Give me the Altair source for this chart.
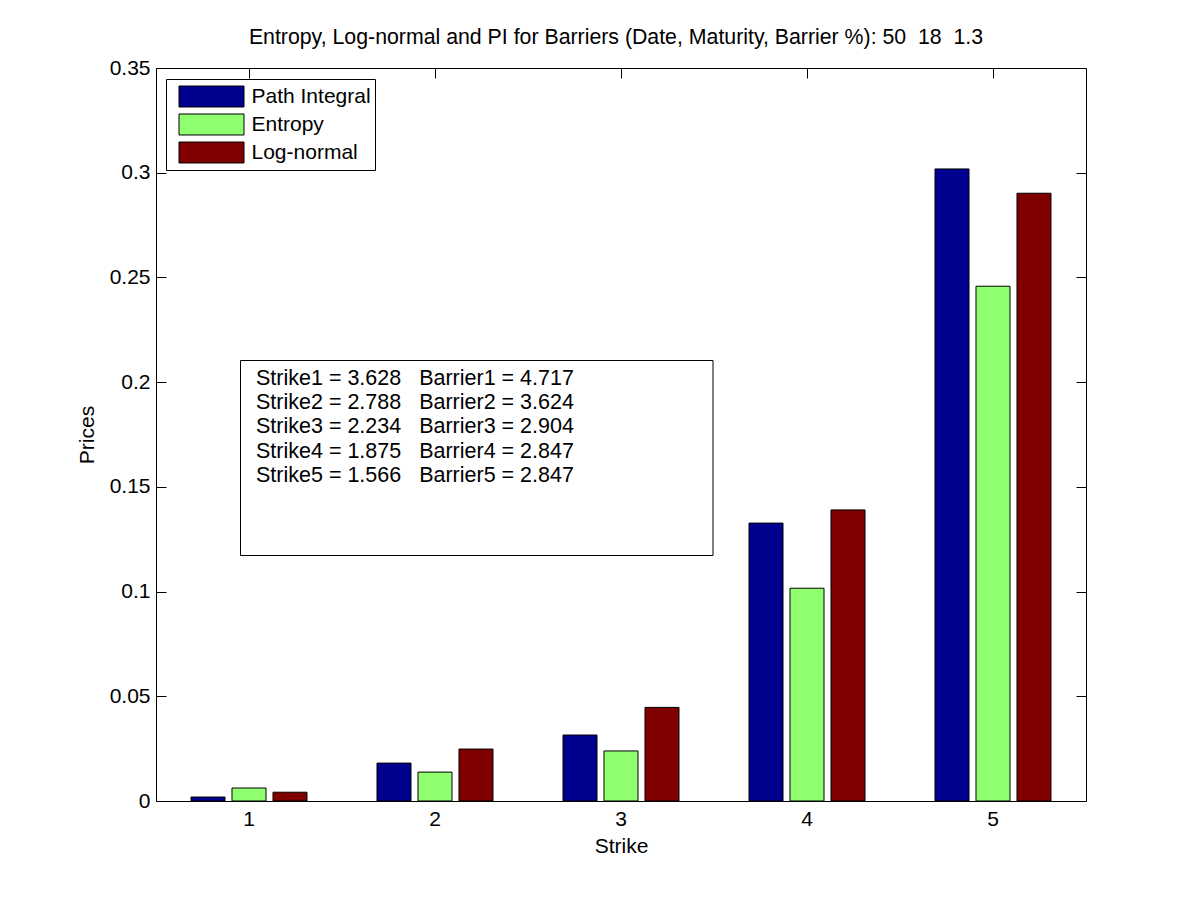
import altair as alt
import pandas as pd

# ---------------- data ----------------
strikes = [1, 2, 3, 4, 5]
series_names = ["Path Integral", "Entropy", "Log-normal"]
path_integral = [0.0019, 0.0181, 0.0315, 0.1327, 0.3018]
entropy = [0.0062, 0.0138, 0.0239, 0.1016, 0.2458]
log_normal = [0.0042, 0.0248, 0.0447, 0.1390, 0.2902]
series_colors = ["#00008F", "#8FFF70", "#800000"]
y_ticks = [0, 0.05, 0.1, 0.15, 0.2, 0.25, 0.3, 0.35]

NB = "\u00a0"
box_lines = [
    "Strike1 = 3.628" + " " + NB * 2 + "Barrier1 = 4.717",
    "Strike2 = 2.788" + " " + NB * 2 + "Barrier2 = 3.624",
    "Strike3 = 2.234" + " " + NB * 2 + "Barrier3 = 2.904",
    "Strike4 = 1.875" + " " + NB * 2 + "Barrier4 = 2.847",
    "Strike5 = 1.566" + " " + NB * 2 + "Barrier5 = 2.847",
]
title_text = ("Entropy, Log-normal and PI for Barriers (Date, Maturity, Barrier %): 50"
              + NB * 2 + "18" + NB * 2 + "1.3")

rows = []
for name, vals in zip(series_names, [path_integral, entropy, log_normal]):
    for s, v in zip(strikes, vals):
        rows.append({"strike": s, "series": name, "price": v})
df = pd.DataFrame(rows)
ann_df = pd.DataFrame({"k": [0]})

FONT = "Liberation Sans"
FS = 21

x_scale = alt.Scale(domain=strikes, paddingInner=0, paddingOuter=0)
y_scale = alt.Scale(domain=[0, 0.35], nice=False, zero=True)

bars = alt.Chart(df).mark_bar(stroke="black", strokeWidth=1, opacity=1).encode(
    x=alt.X("strike:O", scale=x_scale,
            axis=alt.Axis(orient="bottom", title="Strike", labelAngle=0, offset=-10,
                          tickSize=10, domain=False, labelPadding=7, titlePadding=6)),
    xOffset=alt.XOffset("series:N", sort=series_names,
                        scale=alt.Scale(domain=series_names, paddingInner=0.1707,
                                        paddingOuter=0.8537)),
    y=alt.Y("price:Q", scale=y_scale,
            axis=alt.Axis(orient="left", values=y_ticks,
                          labelExpr="format(datum.value, '.2~f')", offset=-10,
                          tickSize=10, domain=False, labelPadding=6, title="Prices",
                          titlePadding=12, grid=False)),
    color=alt.Color("series:N", sort=series_names,
                    scale=alt.Scale(domain=series_names, range=series_colors),
                    legend=alt.Legend(title=None, orient="none", legendX=10, legendY=11,
                                      symbolType="M-1,-0.323L1,-0.323L1,0.323L-1,0.323Z",
                                      symbolSize=4225, symbolStrokeColor="black",
                                      symbolStrokeWidth=1, symbolOpacity=1,
                                      clipHeight=28, rowPadding=0, padding=3.5,
                                      symbolOffset=9, labelOffset=7,
                                      labelFontSize=FS, labelFont=FONT,
                                      labelColor="black", strokeColor="black",
                                      fillColor="white", labelLimit=400)),
)

frame_axes = alt.Chart(df).mark_bar(opacity=0).encode(
    x=alt.X("strike:O", scale=x_scale,
            axis=alt.Axis(orient="top", labels=False, title=None, offset=-10,
                          tickSize=10, domain=False)),
    y=alt.Y("price:Q", scale=y_scale,
            axis=alt.Axis(orient="right", values=y_ticks, labels=False, title=None,
                          offset=-10, tickSize=10, domain=False, grid=False)),
)

box = alt.Chart(ann_df).mark_rect(fill="white", stroke="black", strokeWidth=1).encode(
    x=alt.value(84.5), x2=alt.value(557), y=alt.value(292.5), y2=alt.value(487.5)
)
txt = alt.Chart(ann_df).mark_text(align="left", baseline="alphabetic", fontSize=21.5,
                                  font=FONT, lineHeight=24.2, color="black").encode(
    x=alt.value(100), y=alt.value(317), text=alt.value(box_lines)
)
title_mark = alt.Chart(ann_df).mark_text(align="center", baseline="alphabetic",
                                         fontSize=21.3, font=FONT, color="black").encode(
    x=alt.value(460), y=alt.value(-24), text=alt.value(title_text)
)

chart = alt.layer(bars, frame_axes, box, txt, title_mark).resolve_axis(
    x="independent", y="independent"
).properties(
    width=930, height=733,
    padding={"left": 148, "top": 60, "right": 100, "bottom": 80},
    autosize=alt.AutoSizeParams(type="none"),
    background="white",
).configure_view(
    stroke="black", strokeWidth=1
).configure_axis(
    labelFont=FONT, titleFont=FONT, labelFontSize=FS, titleFontSize=FS,
    titleFontWeight="normal", labelColor="black", titleColor="black",
    tickColor="black", tickWidth=1, grid=False
)

chart.save("out.html", embed_options={"renderer": "svg", "actions": False})
